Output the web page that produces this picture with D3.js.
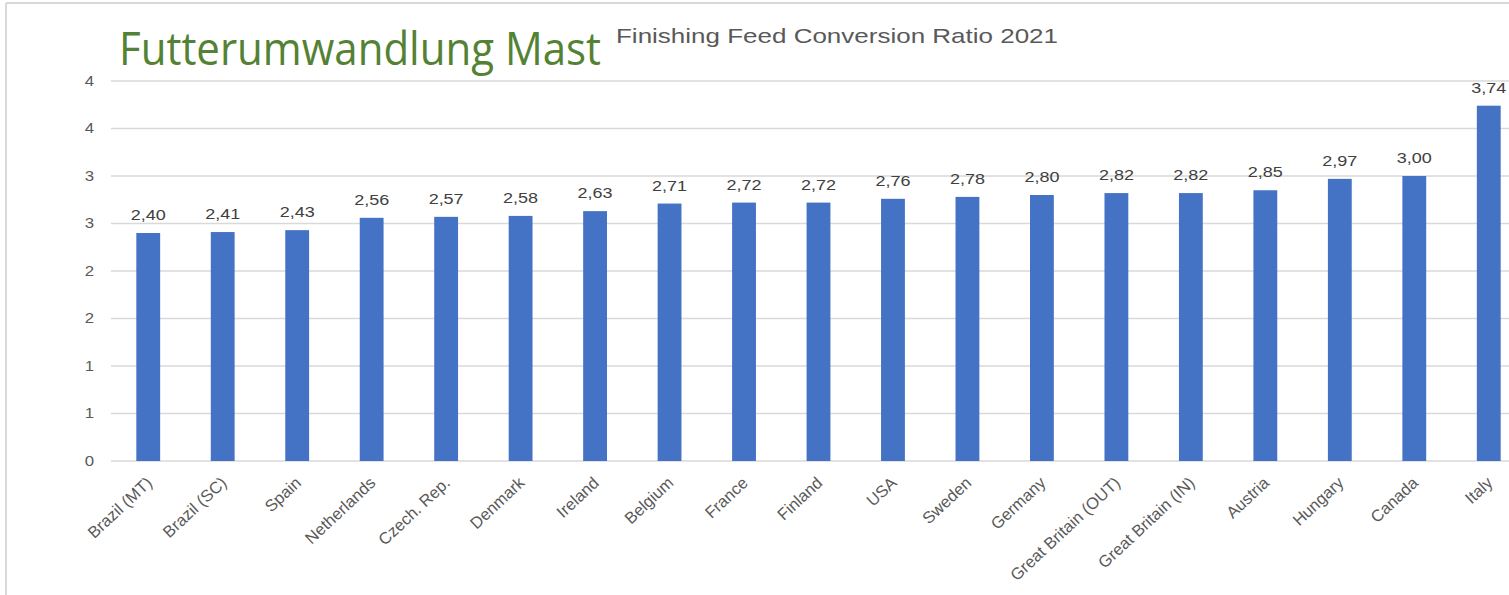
<!DOCTYPE html>
<html>
<head>
<meta charset="utf-8">
<script src="https://cdn.jsdelivr.net/npm/d3@7"></script>
<style>
  html, body { margin: 0; padding: 0; background: #fff; }
  svg { display: block; }
</style>
</head>
<body>
<div id="chart"></div>
<script>
const countries = ['Brazil (MT)', 'Brazil (SC)', 'Spain', 'Netherlands', 'Czech. Rep.', 'Denmark',
  'Ireland', 'Belgium', 'France', 'Finland', 'USA', 'Sweden', 'Germany',
  'Great Britain (OUT)', 'Great Britain (IN)', 'Austria', 'Hungary', 'Canada', 'Italy'];
const fcr = [2.40, 2.41, 2.43, 2.56, 2.57, 2.58, 2.63, 2.71, 2.72, 2.72, 2.76, 2.78, 2.80,
  2.82, 2.82, 2.85, 2.97, 3.00, 3.74];
const yTicks = [0, 0.5, 1, 1.5, 2, 2.5, 3, 3.5, 4];
const title = 'Futterumwandlung Mast';
const subtitle = 'Finishing Feed Conversion Ratio 2021';

const W = 1509, H = 595;
const sx = 1.2; // the source picture is stretched sideways

const svg = d3.select('#chart').append('svg')
  .attr('width', W)
  .attr('height', H)
  .style('overflow', 'hidden');

// slide frame
svg.append('line').attr('x1', 6).attr('x2', W).attr('y1', 3).attr('y2', 3)
  .attr('stroke', '#d9d9d9').attr('stroke-width', 2);
svg.append('line').attr('x1', 6).attr('x2', 6).attr('y1', 3).attr('y2', H)
  .attr('stroke', '#d9d9d9').attr('stroke-width', 2);

const x = d3.scaleBand()
  .domain(countries)
  .range([111, 1526])
  .paddingInner(0.68)
  .paddingOuter(0.34);

const y = d3.scaleLinear()
  .domain([0, 4])
  .range([461, 81]);

const comma = d3.formatLocale({ decimal: ',', thousands: '.', grouping: [3], currency: ['', ''] });
const fmt = comma.format('.2f');

// gridlines
svg.append('g')
  .selectAll('line')
  .data(yTicks)
  .enter()
  .append('line')
  .attr('x1', 111)
  .attr('x2', W)
  .attr('y1', d => y(d))
  .attr('y2', d => y(d))
  .attr('stroke', '#d9d9d9')
  .attr('stroke-width', 1.5);

// y tick labels (Excel shows them rounded to whole numbers)
svg.append('g')
  .selectAll('text')
  .data(yTicks)
  .enter()
  .append('text')
  .attr('transform', d => `translate(94,${y(d)}) scale(${sx},1)`)
  .attr('dy', '0.35em')
  .attr('text-anchor', 'end')
  .attr('font-family', 'Liberation Sans, Arial, sans-serif')
  .attr('font-size', 14)
  .attr('fill', '#595959')
  .text(d => Math.round(d));

const data = countries.map((c, i) => ({ c, v: fcr[i] }));

svg.append('g')
  .selectAll('rect')
  .data(data)
  .enter()
  .append('rect')
  .attr('x', d => x(d.c))
  .attr('y', d => y(d.v))
  .attr('width', x.bandwidth())
  .attr('height', d => y(0) - y(d.v))
  .attr('fill', '#4472c4');

// value labels
svg.append('g')
  .selectAll('text')
  .data(data)
  .enter()
  .append('text')
  .attr('transform', d => `translate(${x(d.c) + x.bandwidth() / 2},${y(d.v) - 13}) scale(${sx},1)`)
  .attr('text-anchor', 'middle')
  .attr('font-family', 'Liberation Sans, Arial, sans-serif')
  .attr('font-size', 15)
  .attr('fill', '#404040')
  .text(d => fmt(d.v));

// category labels
svg.append('g')
  .selectAll('text')
  .data(countries)
  .enter()
  .append('text')
  .attr('transform', d => `translate(${x(d) + x.bandwidth() / 2 + 1},${480}) rotate(-43)`)
  .attr('dy', '0.35em')
  .attr('text-anchor', 'end')
  .attr('font-family', 'Liberation Sans, Arial, sans-serif')
  .attr('font-size', 16.5)
  .attr('fill', '#595959')
  .text(d => d);

// titles
svg.append('text')
  .attr('x', 119)
  .attr('y', 65)
  .attr('font-family', 'Open Sans, sans-serif')
  .attr('font-size', 45)
  .attr('fill', '#548235')
  .attr('textLength', 482)
  .attr('lengthAdjust', 'spacingAndGlyphs')
  .text(title);

svg.append('text')
  .attr('x', 616)
  .attr('y', 43)
  .attr('font-family', 'Liberation Sans, Arial, sans-serif')
  .attr('font-size', 21)
  .attr('fill', '#595959')
  .attr('textLength', 442)
  .attr('lengthAdjust', 'spacingAndGlyphs')
  .text(subtitle);
</script>
</body>
</html>
